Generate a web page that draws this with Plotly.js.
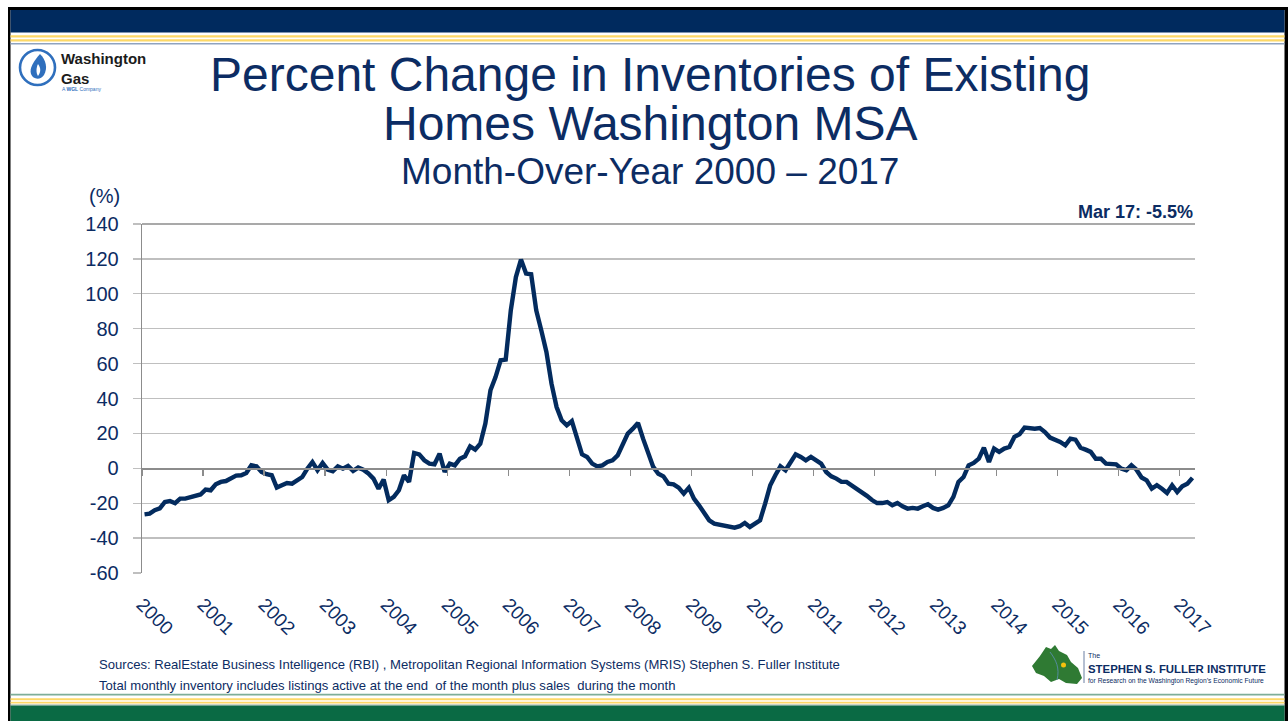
<!DOCTYPE html>
<html><head><meta charset="utf-8">
<script src="https://cdn.plot.ly/plotly-3.0.1.min.js"></script>
<style>html,body{margin:0;padding:0;background:#fff;overflow:hidden}#chart{width:1288px;height:721px}</style>
</head><body><div id="chart"></div>
<script>
// ---- data ----
const years = [2000,2001,2002,2003,2004,2005,2006,2007,2008,2009,2010,2011,2012,2013,2014,2015,2016,2017];
const yTicks = [-60,-40,-20,0,20,40,60,80,100,120,140];
// monthly % change, Jan 2000 .. Mar 2017
const pctChange = [
-26.4,-26.0,-24.0,-23.0,-19.3,-18.7,-20.0,-17.4,-17.4,-16.4,-15.5,-15.0,
-12.2,-12.6,-9.2,-7.8,-7.3,-5.5,-4.2,-4.0,-2.7,1.7,1.1,-2.1,
-3.4,-4.0,-11.0,-9.7,-8.4,-8.8,-6.9,-5.0,-0.2,3.6,-1.1,3.0,
-0.8,-1.7,1.1,-0.2,1.3,-1.5,0.4,-0.8,-3.0,-5.9,-11.7,-6.5,
-18.3,-16.4,-12.6,-4.0,-7.8,8.8,8.0,4.6,2.7,2.3,8.4,-2.1,
2.7,1.7,5.5,6.9,12.6,10.7,14.1,25.6,44.7,52.3,61.9,62.3,
90.5,109.6,119.6,111.6,111.2,90.5,79.0,66.7,48.5,35.1,27.5,24.6,
27.1,17.0,8.0,6.5,2.7,1.1,1.7,3.6,4.6,7.4,14.1,19.9,
22.7,26.0,17.0,8.4,0.8,-3.1,-4.6,-8.8,-9.2,-11.1,-14.5,-11.1,
-17.4,-21.2,-25.6,-29.8,-31.7,-32.3,-32.3,-33.2,-34.0,-33.2,-31.3,-33.6,
-31.3,-29.8,-20.2,-9.7,-4.0,1.1,-1.1,3.6,8.0,6.5,4.6,6.5,
4.6,2.7,-2.1,-4.6,-5.9,-7.8,-7.8,-9.7,-12.0,-14.0,-15.8,-18.2,
-19.9,-19.9,-19.3,-21.2,-19.9,-21.8,-23.1,-22.7,-23.1,-21.8,-20.6,-22.7,
-23.7,-22.7,-21.2,-16.4,-7.8,-5.0,1.7,3.1,5.5,11.8,3.6,11.3,
9.4,11.3,12.2,18.0,19.5,23.3,22.7,22.7,23.1,20.8,17.6,16.4,
15.1,13.2,17.0,16.4,11.8,10.7,9.4,5.5,5.5,2.7,2.7,2.3,
-0.2,-1.1,1.7,-0.8,-5.3,-6.9,-11.7,-9.7,-11.7,-14.1,-9.7,-13.6,
-10.3,-8.8,-5.5
];
const monthIdx = pctChange.map((_, i) => i);
const yearTickVals = years.map((_, k) => k * 12 - 0.5);
const yearTickText = years.map(String);
const yTickText = yTicks.map(String);

// ---- geometry helpers (pixel -> paper) ----
const W = 1288, H = 721, M = {l:142, r:93, t:224, b:148};
const PW = W - M.l - M.r, PH = H - M.t - M.b;
const fx = px => (px - M.l) / PW;
const fy = py => (H - M.b - py) / PH;
const P = (px, py) => fx(px).toFixed(5) + ',' + fy(py).toFixed(5);

const NAVY = '#0c2c63';
const FONT = 'Liberation Sans, Arial, sans-serif';

// pick a condensed face if one is installed, and size text to a target width
const cv = document.createElement('canvas').getContext('2d');
function textW(txt, fam, bold, size) { cv.font = (bold ? 'bold ' : '') + size + 'px ' + fam; return cv.measureText(txt).width; }
const narrowFam = '"Liberation Sans Narrow", "Arial Narrow", "DejaVu Sans Condensed"';
const hasNarrow = textW('STEPHEN S. FULLER INSTITUTE', narrowFam + ', monospace', true, 100) <
                  0.9 * textW('STEPHEN S. FULLER INSTITUTE', '"Liberation Sans"', true, 100) &&
                  textW('STEPHEN S. FULLER INSTITUTE', narrowFam + ', monospace', true, 100) !==
                  textW('STEPHEN S. FULLER INSTITUTE', 'monospace', true, 100);
const CONDENSED = hasNarrow ? 'Liberation Sans Narrow, Arial Narrow, DejaVu Sans Condensed' : FONT;
function fit(txt, fam, bold, target, maxSize) {
  const cssFam = fam.split(',').map(s => '"' + s.trim() + '"').join(',');
  const w = textW(txt, cssFam, bold, 100);
  return Math.min(maxSize, target / w * 100);
}

function rect(x0, y0, x1, y1, color) {
  return {type:'rect', xref:'paper', yref:'paper', x0:fx(x0), x1:fx(x1), y0:fy(y0), y1:fy(y1),
          fillcolor:color, line:{width:0}, layer:'below'};
}

const shapes = [
  // frame
  rect(8, 7, 1288, 10, '#000000'),
  rect(8, 7, 10.5, 721, '#000000'),
  rect(1284.5, 7, 1288, 721, '#000000'),
  // header bands
  rect(10.5, 10, 1284.5, 32.5, '#002a5e'),
  rect(10.5, 35.3, 1284.5, 37.6, '#fcd867'),
  rect(10.5, 39.3, 1284.5, 41.4, '#fcd867'),
  rect(10.5, 43, 1284.5, 44.6, '#8fa3bf'),
  // footer bands
  rect(10.5, 693.8, 1284.5, 695.6, '#7eae98'),
  rect(10.5, 698.2, 1284.5, 700.2, '#fcd867'),
  rect(10.5, 701.8, 1284.5, 703.6, '#fcd867'),
  rect(10.5, 704.3, 1284.5, 705.4, '#b7c7b7'),
  rect(10.5, 705.6, 1284.5, 721, '#0a6a44'),
  // plot top border
  {type:'line', xref:'paper', yref:'paper', x0:0, x1:1, y0:1, y1:1, line:{color:'#8c8c8c', width:1.3}},
  // Washington Gas logo
  {type:'circle', xref:'paper', yref:'paper', x0:fx(20), x1:fx(55), y0:fy(50), y1:fy(85),
   fillcolor:'#ffffff', line:{color:'#2f6fbd', width:2.6}},
  {type:'path', xref:'paper', yref:'paper',
   path:'M'+P(40,54)+' C'+P(46,60)+' '+P(48,68)+' '+P(44,75)+' C'+P(41,80)+' '+P(33,80)+' '+P(31,74)+' C'+P(29,68)+' '+P(34,61)+' '+P(40,54)+' Z',
   fillcolor:'#2f6fbd', line:{width:0}},
  {type:'path', xref:'paper', yref:'paper',
   path:'M'+P(38,64)+' C'+P(41,68)+' '+P(41,72)+' '+P(38,76)+' C'+P(36,73)+' '+P(36,68)+' '+P(38,64)+' Z',
   fillcolor:'#ffffff', line:{width:0}},
  // Fuller Institute logo
  {type:'path', xref:'paper', yref:'paper',
   path:'M'+P(1040,656)+' L'+P(1046,647)+' L'+P(1051,649)+' L'+P(1055,645)+' L'+P(1059,651)+' L'+P(1067,655)+' L'+P(1071,662)+' L'+P(1078,668)+' L'+P(1082,678)+' L'+P(1077,684)+' L'+P(1066,683)+' L'+P(1059,679)+' L'+P(1051,682)+' L'+P(1044,676)+' L'+P(1036,673)+' L'+P(1032,666)+' L'+P(1036,661)+' Z',
   fillcolor:'#2f7a33', line:{width:0}},
  {type:'path', xref:'paper', yref:'paper',
   path:'M'+P(1050,652)+' C'+P(1056,660)+' '+P(1060,668)+' '+P(1057,680),
   line:{color:'#5d8fb8', width:0.8}},
  {type:'circle', xref:'paper', yref:'paper', x0:fx(1061), x1:fx(1066), y0:fy(662.5), y1:fy(667.5),
   fillcolor:'#f4c20d', line:{width:0}},
  {type:'line', xref:'paper', yref:'paper', x0:fx(1084), x1:fx(1084), y0:fy(651), y1:fy(683),
   line:{color:'#6b7fa3', width:1}}
];

function ann(text, px, py, size, opts) {
  return Object.assign({text:text, x:fx(px), y:fy(py), xref:'paper', yref:'paper', showarrow:false,
    xanchor:'center', yanchor:'middle', font:{family:FONT, size:size, color:NAVY}}, opts || {});
}

const fullerName = 'STEPHEN S. FULLER INSTITUTE';
const fullerSub = 'for Research on the Washington Region\u2019s Economic Future';
const fullerSize = fit(fullerName, CONDENSED, true, 178, 15);
const fullerSubSize = fit(fullerSub, CONDENSED, false, 176, 8);

const annotations = [
  ann('Percent Change in Inventories of Existing', 650, 74, 48),
  ann('Homes Washington MSA', 650, 124, 48),
  ann('Month-Over-Year 2000 \u2013 2017', 650, 171, 37),
  ann('(%)', 104, 196, 20),
  ann('<b>Mar 17: -5.5%</b>', 1195, 212, 18, {xanchor:'right'}),
  ann('Sources: RealEstate Business Intelligence (RBI) , Metropolitan Regional Information Systems (MRIS) Stephen S. Fuller Institute', 97, 664, 13.1, {xanchor:'left'}),
  ann('Total monthly inventory includes listings active at the end  of the month plus sales  during the month', 97, 685, 13.1, {xanchor:'left'}),
  ann('<b>Washington</b><br><b>Gas</b>', 60, 68, 15, {xanchor:'left', align:'left', borderpad:0,
      font:{family:FONT, size:15, color:'#1b1b1b'}}),
  ann('A <b>WGL</b> Company', 61, 89, 5, {xanchor:'left', borderpad:0, font:{family:FONT, size:5, color:'#2f6fbd'}}),
  ann('The', 1087, 655, 7, {xanchor:'left', borderpad:0, font:{family:CONDENSED, size:7, color:NAVY}}),
  ann('<b>' + fullerName + '</b>', 1087, 668.5, fullerSize, {xanchor:'left', borderpad:0,
      font:{family:CONDENSED, size:fullerSize, color:NAVY}}),
  ann(fullerSub, 1087, 680.5, fullerSubSize, {xanchor:'left', borderpad:0,
      font:{family:CONDENSED, size:fullerSubSize, color:NAVY}})
];

const traces = [
  {type:'scatter', mode:'lines', x:monthIdx, y:pctChange, xaxis:'x', yaxis:'y',
   line:{color:'#032b5e', width:4.4}, hoverinfo:'x+y', showlegend:false},
  {type:'scatter', mode:'lines', x:[], y:[], xaxis:'x2', yaxis:'y', showlegend:false, hoverinfo:'skip'}
];

const layout = {
  width:W, height:H, margin:M, paper_bgcolor:'#ffffff', plot_bgcolor:'rgba(0,0,0,0)',
  showlegend:false,
  xaxis:{range:[-0.5, pctChange.length - 0.5], tickmode:'array', tickvals:yearTickVals, ticktext:yearTickText,
         tickangle:45, ticks:'outside', ticklen:12, tickcolor:'rgba(0,0,0,0)', showgrid:false, zeroline:false,
         showline:false, tickfont:{family:FONT, size:19, color:NAVY}, fixedrange:true},
  xaxis2:{overlaying:'x', anchor:'free', position:0.3, range:[-0.5, pctChange.length - 0.5],
          tickmode:'array', tickvals:yearTickVals, ticks:'outside', ticklen:6, tickwidth:1.3, tickcolor:'#8c8c8c',
          showticklabels:false, showgrid:false, zeroline:false, showline:true, linecolor:'#8c8c8c', linewidth:1.3},
  yaxis:{range:[-60,140], tickmode:'array', tickvals:yTicks, ticktext:yTickText, ticks:'outside', ticklen:8, tickwidth:1.3,
         tickcolor:'#bfbfbf', showgrid:true, gridcolor:'#bfbfbf', gridwidth:1.3, zeroline:false,
         showline:true, linecolor:'#8c8c8c', linewidth:1.3, ticklabelstandoff:10,
         tickfont:{family:FONT, size:20, color:NAVY}, fixedrange:true},
  shapes:shapes, annotations:annotations
};

Plotly.newPlot('chart', traces, layout, {displayModeBar:false, staticPlot:true});
</script></body></html>
